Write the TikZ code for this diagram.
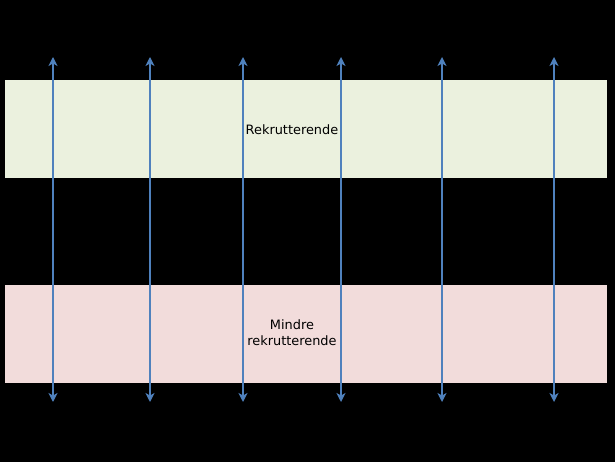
\documentclass[tikz,border=0pt]{standalone}
\usepackage{fontspec}
\setmainfont{DejaVu Sans}
\usetikzlibrary{arrows.meta}
\definecolor{bandgreen}{HTML}{EBF1DE}
\definecolor{bandpink}{HTML}{F2DCDB}
\definecolor{arrowblue}{HTML}{4F81BD}
\begin{document}
\begin{tikzpicture}[x=1pt,y=-1pt,
  band/.style={draw=none,minimum width=602pt,minimum height=98pt,inner sep=0pt,anchor=north west},
  lbl/.style={font=\fontsize{12.9}{16}\selectfont,align=center,text=black},
  dbl/.style={draw=arrowblue,line width=1.5pt,{Stealth[length=9pt,width=9pt,inset=2.5pt]}-{Stealth[length=9pt,width=9pt,inset=2.5pt]}}]
\fill[black] (0,0) rectangle (615,462);
\useasboundingbox (0,0) rectangle (615,462);
\node[band,fill=bandgreen] (green) at (5,80) {};
\node[band,fill=bandpink] (pink) at (5,285) {};
\foreach \i/\x in {1/53,2/150,3/243,4/341,5/442,6/554}{
  \coordinate (t\i) at (\x,57);
  \coordinate (b\i) at (\x,402);
  \draw[dbl] (b\i) -- (t\i);
}
\node[lbl] (l1) at (292,129.5) {Rekrutterende};
\node[lbl] (l2) at (292,333) {Mindre\\rekrutterende};
\end{tikzpicture}
\end{document}
